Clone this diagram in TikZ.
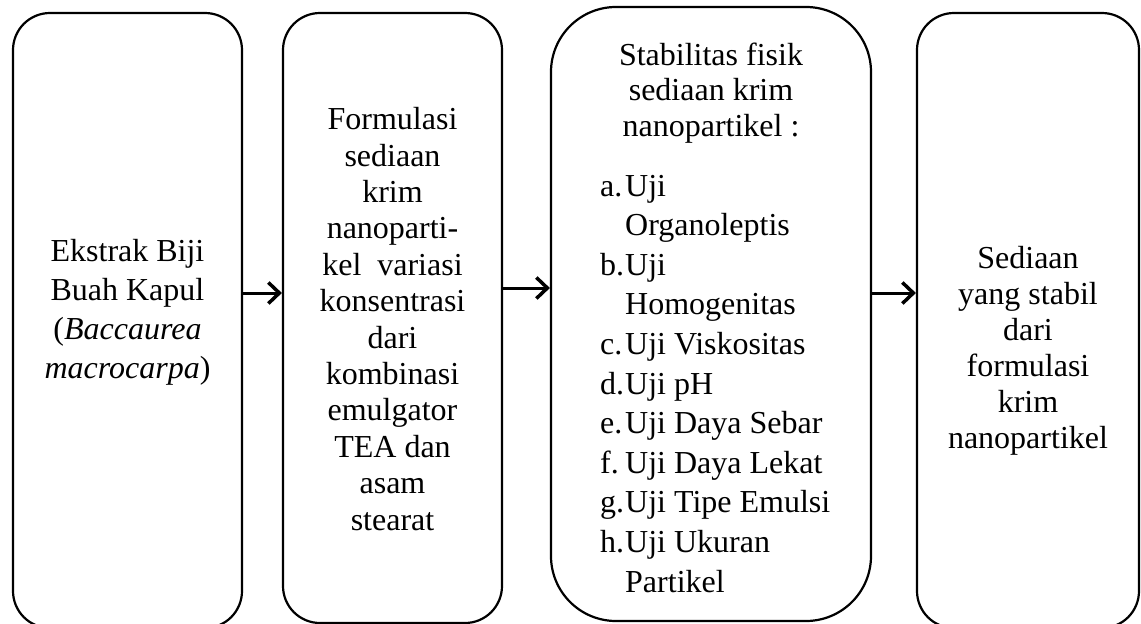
\documentclass[tikz,border=0pt]{standalone}
\usepackage{fontspec}
\setmainfont{Liberation Serif}
\usetikzlibrary{arrows.meta}
\begin{document}
\begin{tikzpicture}[x=1pt,y=-1pt,
  box/.style={draw=black,line width=2.2pt,rounded corners=37pt,inner sep=0pt,rectangle},
  txt/.style={inner sep=0pt,align=center,anchor=base},
  arr/.style={line width=3pt,-{Straight Barb[length=11pt,width=21pt,line width=3.5pt]}}]
\useasboundingbox (0,0) rectangle (1141,624);
\node[box,minimum width=229pt,minimum height=615pt] (b1) at (127.5,320.5) {};
\node[box,minimum width=219pt,minimum height=610pt] (b2) at (392.5,318) {};
\node[box,rounded corners=65pt,minimum width=320pt,minimum height=614pt] (b3) at (711,314) {};
\node[box,minimum width=222pt,minimum height=615pt] (b4) at (1028,320.5) {};

\node[txt,font=\fontsize{32}{38.7}\selectfont] (t1) at (127.5,378)
  {Ekstrak Biji\\Buah Kapul\\(\textit{Baccaurea}\\\textit{macrocarpa})};
\node[txt,font=\fontsize{32}{36.4}\selectfont] (t2) at (392.5,530)
  {Formulasi\\sediaan\\krim\\nanoparti-\\kel\ \ variasi\\konsentrasi\\dari\\kombinasi\\emulgator\\TEA dan\\asam\\stearat};
\node[txt,font=\fontsize{32}{35.5}\selectfont] (t3) at (711,136)
  {Stabilitas fisik\\sediaan krim\\nanopartikel :};
\node[txt,align=left,anchor=base west,font=\fontsize{32}{39.6}\selectfont] (t3l) at (600,592)
  {\makebox[25pt][l]{a.}Uji\\\hspace*{25pt}Organoleptis\\
   \makebox[25pt][l]{b.}Uji\\\hspace*{25pt}Homogenitas\\
   \makebox[25pt][l]{c.}Uji Viskositas\\
   \makebox[25pt][l]{d.}Uji pH\\
   \makebox[25pt][l]{e.}Uji Daya Sebar\\
   \makebox[25pt][l]{f.}Uji Daya Lekat\\
   \makebox[25pt][l]{g.}Uji Tipe Emulsi\\
   \makebox[25pt][l]{h.}Uji Ukuran\\\hspace*{25pt}Partikel};
\node[txt,font=\fontsize{32}{36}\selectfont] (t4) at (1028,448)
  {Sediaan\\yang stabil\\dari\\formulasi\\krim\\nanopartikel};

\draw[arr] (b1.east |- 0,293) -- (b2.west |- 0,293);
\draw[arr] (b2.east |- 0,288) -- (b3.west |- 0,288);
\draw[arr] (b3.east |- 0,293) -- (b4.west |- 0,293);
\end{tikzpicture}
\end{document}
